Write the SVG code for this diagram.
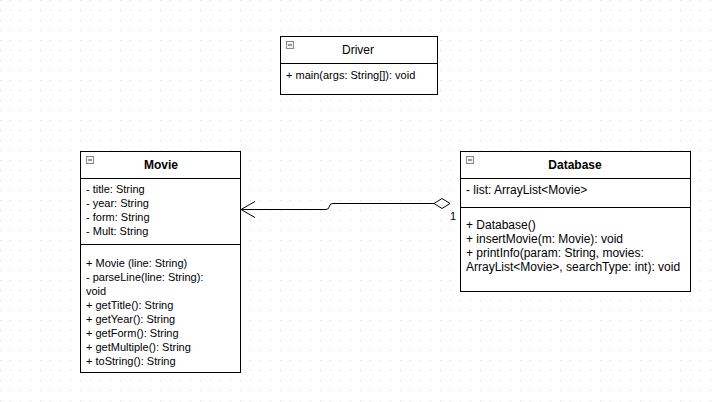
<svg xmlns="http://www.w3.org/2000/svg" width="720" height="402" viewBox="0 0 720 402">
<defs>
<pattern id="grid" width="10" height="10" patternUnits="userSpaceOnUse">
<rect x="0" y="0" width="1" height="1" fill="#d8d8d8"/>
</pattern>
<g id="icon">
<rect x="0.5" y="0.5" width="7" height="7" fill="#f2f2f2" stroke="#8a8a8a" stroke-width="1"/>
<line x1="2" y1="4" x2="6" y2="4" stroke="#444" stroke-width="1"/>
</g>
</defs>
<style>
.box{fill:#fff;stroke:#000;stroke-width:1}
.sep{stroke:#000;stroke-width:1}
text{font-family:"Liberation Sans",Arial,sans-serif;font-size:11px;fill:#000}
.title{font-size:12px;text-anchor:middle}
.bold{font-weight:bold}
.big{font-size:12px}
.conn{fill:none;stroke:#000;stroke-width:1}
</style>
<rect width="720" height="402" fill="#fff"/>
<rect width="720" height="402" fill="url(#grid)"/>

<g id="Driver">
<rect class="box" x="280.5" y="36.5" width="157" height="58"/>
<line class="sep" x1="280.5" y1="63.5" x2="437.5" y2="63.5"/>
<use href="#icon" x="286" y="41"/>
<text class="title" x="358" y="54">Driver</text>
<text x="286" y="79">+ main(args: String[]): void</text>
</g>

<g id="Movie">
<rect class="box" x="80.5" y="151.5" width="160" height="221"/>
<line class="sep" x1="80.5" y1="178.5" x2="240.5" y2="178.5"/>
<line class="sep" x1="80.5" y1="244.5" x2="240.5" y2="244.5"/>
<use href="#icon" x="86" y="156"/>
<text class="title bold" x="161" y="169">Movie</text>
<text x="86" y="193">- title: String</text>
<text x="86" y="207">- year: String</text>
<text x="86" y="221">- form: String</text>
<text x="86" y="235">- Mult: String</text>
<text x="86" y="267">+ Movie (line: String)</text>
<text x="86" y="281">- parseLine(line: String):</text>
<text x="86" y="295">void</text>
<text x="86" y="309">+ getTitle(): String</text>
<text x="86" y="323">+ getYear(): String</text>
<text x="86" y="337">+ getForm(): String</text>
<text x="86" y="351">+ getMultiple(): String</text>
<text x="86" y="365">+ toString(): String</text>
</g>

<g id="Database">
<rect class="box" x="460.5" y="151.5" width="230" height="140"/>
<line class="sep" x1="460.5" y1="178.5" x2="690.5" y2="178.5"/>
<line class="sep" x1="460.5" y1="207.5" x2="690.5" y2="207.5"/>
<use href="#icon" x="466" y="156"/>
<text class="title bold" x="575" y="169">Database</text>
<text class="big" x="466" y="194">- list: ArrayList&lt;Movie&gt;</text>
<text class="big" x="466" y="229">+ Database()</text>
<text class="big" x="466" y="243">+ insertMovie(m: Movie): void</text>
<text class="big" x="466" y="257">+ printInfo(param: String, movies:</text>
<text class="big" x="466" y="271">ArrayList&lt;Movie&gt;, searchType: int): void</text>
</g>

<g id="connectors">
<path class="conn" d="M434,203.5 L333,203.5 Q330,203.5 329.5,206 Q329,209.5 326,209.5 L241,209.5"/>
<path class="conn" d="M255,201.5 L241,209.5 L255,217.5"/>
<path d="M434,203.5 L442,198.5 L450,203.5 L442,208.5 Z" fill="#fff" stroke="#000" stroke-width="1"/>
<text x="450" y="220">1</text>
</g>
</svg>
